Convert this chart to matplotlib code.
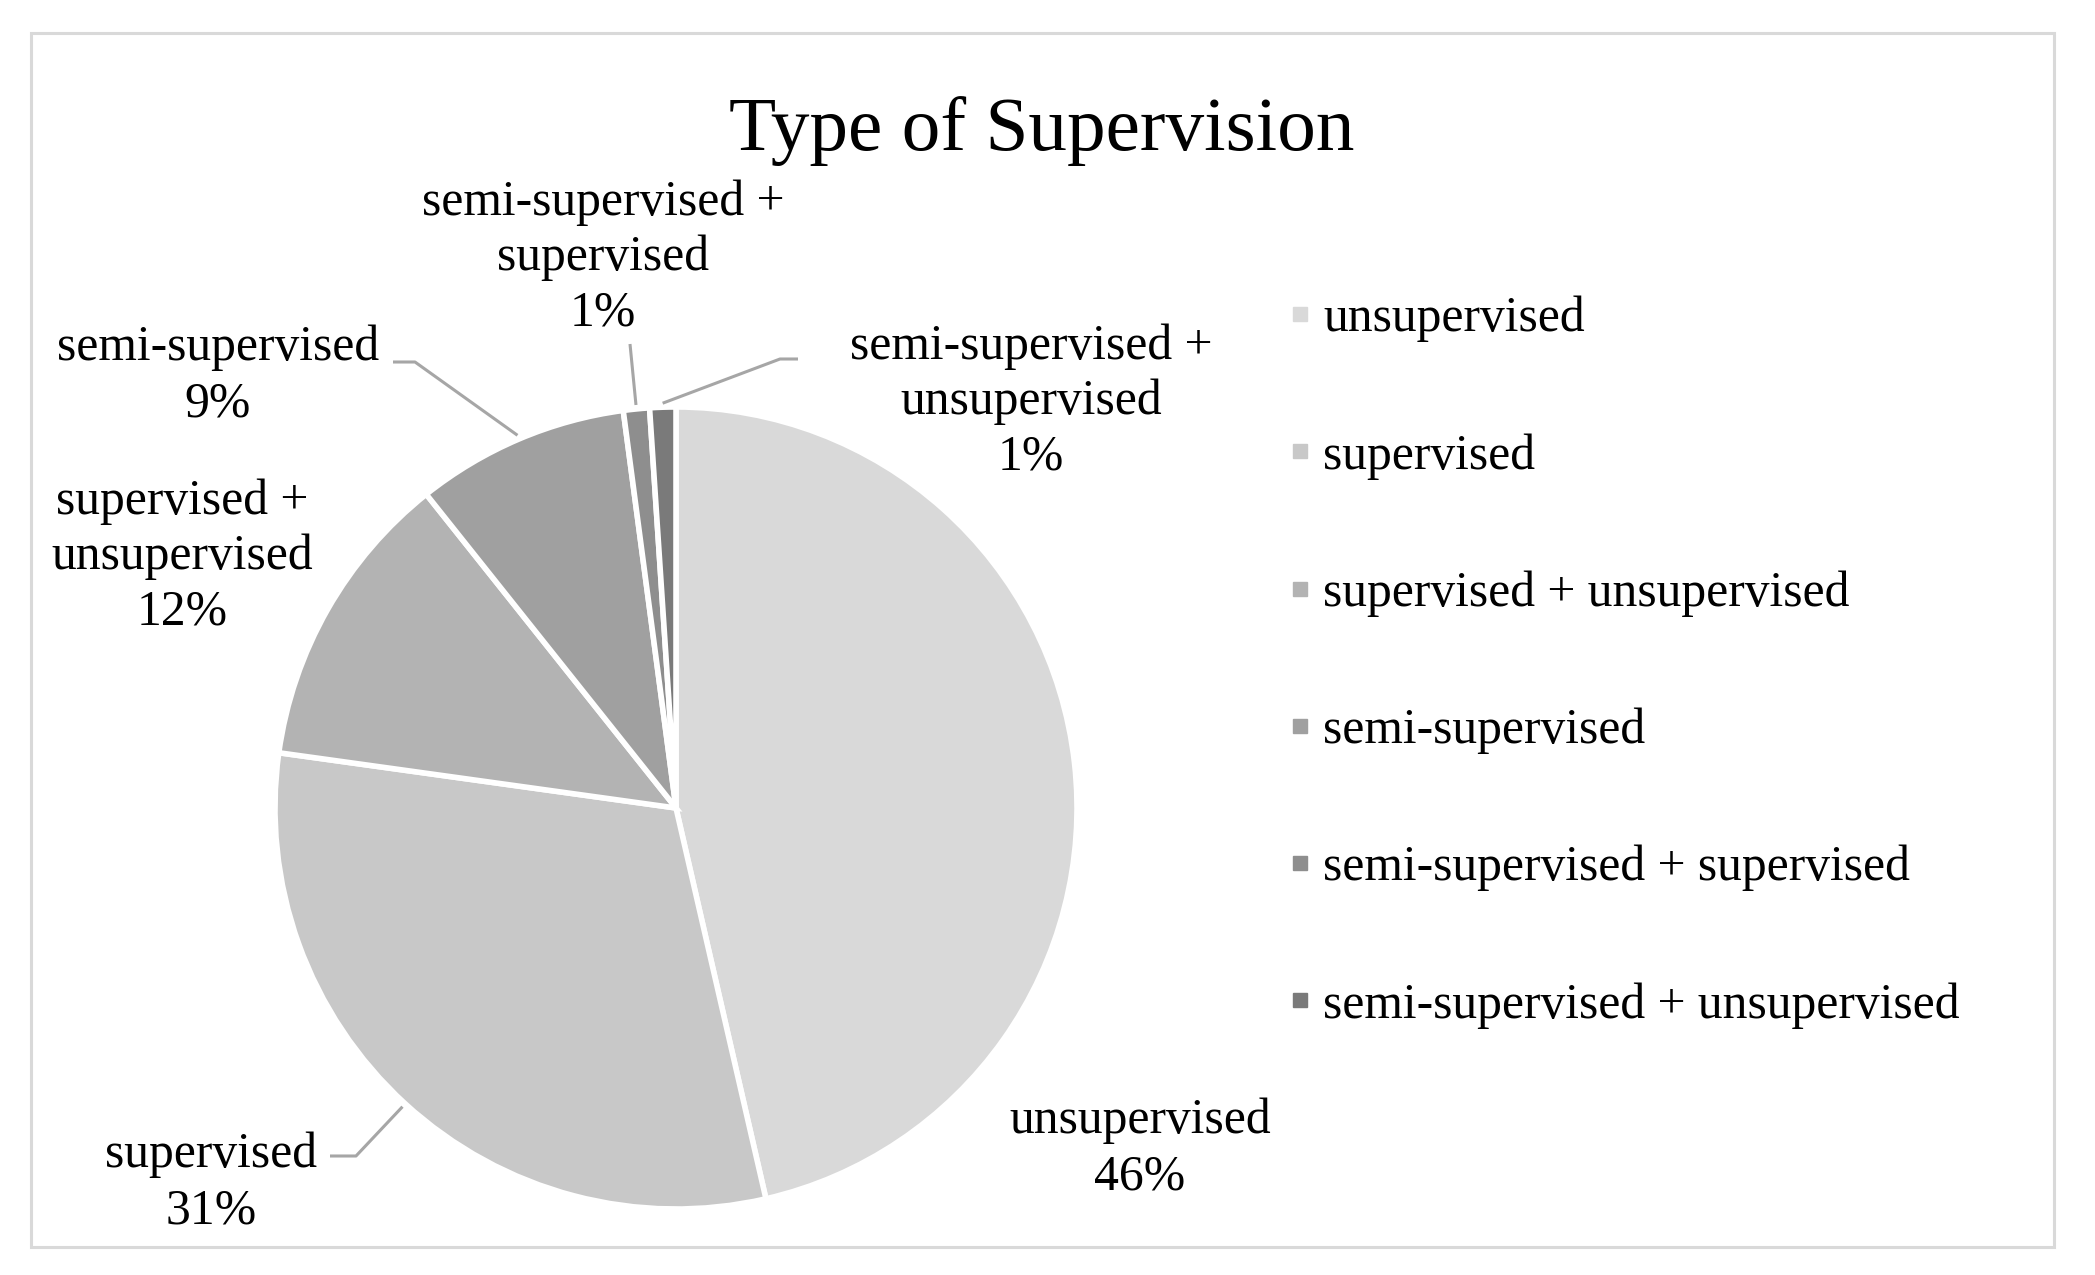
import matplotlib
matplotlib.use("Agg")
import matplotlib.pyplot as plt
from matplotlib.lines import Line2D
from matplotlib.patches import Rectangle
import numpy as np

plt.rcParams['font.family'] = ['Liberation Serif', 'DejaVu Serif']

categories = ["unsupervised", "supervised", "supervised + unsupervised",
              "semi-supervised", "semi-supervised + supervised",
              "semi-supervised + unsupervised"]
label_text = ["unsupervised", "supervised", "supervised +\nunsupervised",
              "semi-supervised", "semi-supervised +\nsupervised",
              "semi-supervised +\nunsupervised"]
values = [46.4, 30.8, 12.1, 8.6, 1.05, 1.05]
pct_labels = ["46%", "31%", "12%", "9%", "1%", "1%"]
colors = ["#d9d9d9", "#c8c8c8", "#b3b3b3", "#a0a0a0", "#8e8e8e", "#7a7a7a"]

W, H = 2095, 1275
fig = plt.figure(figsize=(W / 100, H / 100), dpi=100)
ax = fig.add_axes([0, 0, 1, 1])

def Y(y):
    return H - y

cx, cy, R = 676, 808, 401
wedges, _ = ax.pie(values, colors=colors, startangle=90, counterclock=False,
                   center=(cx, Y(cy)), radius=R,
                   wedgeprops=dict(edgecolor="white", linewidth=4.0))
ax.set_xlim(0, W)
ax.set_ylim(0, H)
ax.set_aspect("equal")
ax.axis("off")

# frame
fig.patches.append(Rectangle((31 / W, (H - 1247) / H), (2054 - 31) / W, (1247 - 33) / H,
                             transform=fig.transFigure, fill=False,
                             edgecolor="#d9d9d9", linewidth=2.2))

fs = 35.7
ax.text(1042, Y(150), "Type of Supervision", ha="center", va="baseline",
        fontsize=55.6, color="black")

# data label positions (pixel coords) and leader elbows
label_pos = [(1140, 1149), (211, 1183), (182, 557), (218, 376), (603, 258), (1031, 402)]
elbows = [None, [(330, 1156), (356, 1156)], None, [(393, 362), (415, 362)],
          [(630, 344)], [(798, 359), (780, 359)]]

for i, w in enumerate(wedges):
    x, y = label_pos[i]
    ax.text(x, Y(y), f"{label_text[i]}\n{pct_labels[i]}", ha="center", va="center",
            fontsize=fs, linespacing=1.26, color="black")
    if elbows[i] is not None:
        mid = np.deg2rad((w.theta1 + w.theta2) / 2)
        ex = cx + R * 1.01 * np.cos(mid)
        ey = Y(cy) + R * 1.01 * np.sin(mid)
        xs = [p[0] for p in elbows[i]] + [ex]
        ys = [Y(p[1]) for p in elbows[i]] + [ey]
        ax.plot(xs, ys, color="#a6a6a6", linewidth=2.2, solid_capstyle="butt")

handles = [Line2D([], [], marker="s", linestyle="none", markersize=10,
                  markerfacecolor=c, markeredgecolor=c) for c in colors]
leg = ax.legend(handles, categories, loc="upper left",
                bbox_to_anchor=(1285 / W, 1 - 296 / H), bbox_transform=fig.transFigure,
                frameon=False, fontsize=fs, labelspacing=1.83, handlelength=0.6,
                handletextpad=0.17, borderpad=0, borderaxespad=0)

fig.savefig("out.png", dpi=100, facecolor="white")
